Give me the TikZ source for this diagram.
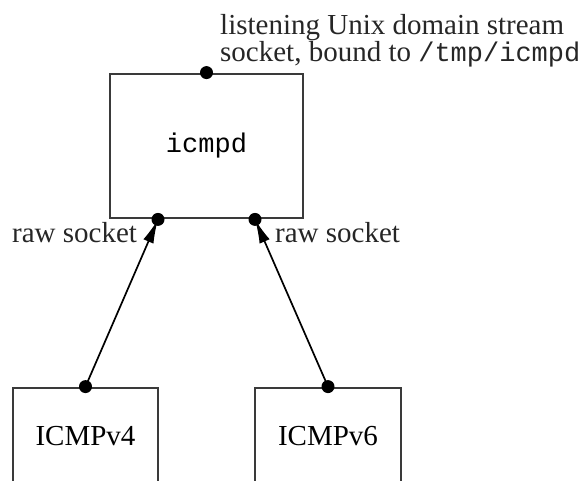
\documentclass[tikz,border=0pt]{standalone}
\usepackage{fontspec}
\setmainfont{Liberation Serif}
\setmonofont{Liberation Mono}
\usetikzlibrary{arrows.meta, positioning}
\definecolor{edge-gray}{HTML}{3A3A3A}

\begin{document}
\begin{tikzpicture}[x=1pt, y=-1pt,
    every node/.style={font=\fontsize{29}{25}\selectfont},
    procbox/.style={draw=edge-gray, line width=2.8pt, inner sep=0pt},
    lbl/.style={inner sep=0pt, text=black!85},
    sockdot/.style={circle, fill=black, inner sep=0pt, minimum size=13pt},
    feed/.style={-{Latex[length=24pt, width=11pt]}, line width=1.7pt}]
    \useasboundingbox (0, 0) rectangle (586, 481);
    \clip (0, 0) rectangle (586, 481);
    % processes
    \node[procbox, minimum width=193pt, minimum height=144pt] (icmpd) at (206.5, 146)
      {\fontsize{27}{27}\selectfont\texttt{icmpd}};
    \node[procbox, minimum width=145pt, minimum height=96pt] (v4) at (85.5, 436) {ICMPv4};
    \node[procbox, minimum width=146pt, minimum height=96pt] (v6) at (328, 436) {ICMPv6};
    % socket points
    \coordinate (raw4) at ([xshift=-48.5pt]icmpd.south);
    \coordinate (raw6) at ([xshift=48.5pt]icmpd.south);
    \draw[feed] (v4.north) -- (raw4);
    \draw[feed] (v6.north) -- (raw6);
    \node[sockdot] (unixdot) at (icmpd.north) {};
    \node[sockdot] (raw4dot) at (raw4) {};
    \node[sockdot] (raw6dot) at (raw6) {};
    \node[sockdot] (v4dot) at (v4.north) {};
    \node[sockdot] (v6dot) at (v6.north) {};
    % labels
    \node[lbl, anchor=north west, align=left] (listen) at (220, 14)
      {listening Unix domain stream\\
       socket, bound to {\fontsize{27}{25}\selectfont\texttt{/tmp/icmpd}}};
    \node[lbl, anchor=base west] (rawlab4) at (12, 242) {raw socket};
    \node[lbl, anchor=base west] (rawlab6) at (275, 242) {raw socket};
  \end{tikzpicture}
\end{document}
